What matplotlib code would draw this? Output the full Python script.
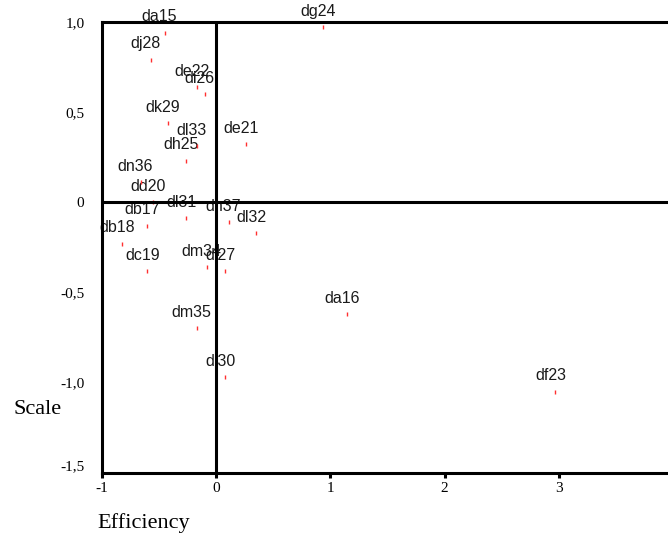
import matplotlib
matplotlib.use('Agg')
import matplotlib.pyplot as plt

# ---- data ----
names = ['da15', 'dj28', 'de22', 'di26', 'dk29', 'dl33', 'dh25', 'de21',
         'dn36', 'dd20', 'dl31', 'dn37', 'dl32', 'db17', 'db18', 'dc19',
         'dm34', 'di27', 'dm35', 'dl30', 'da16', 'df23', 'dg24']
efficiency = [-0.45, -0.57, -0.17, -0.10, -0.42, -0.17, -0.26, 0.26,
              -0.66, -0.55, -0.26, 0.11, 0.35, -0.60, -0.82, -0.60,
              -0.08, 0.08, -0.17, 0.08, 1.15, 2.97, 0.94]
scale = [0.94, 0.79, 0.64, 0.60, 0.44, 0.31, 0.23, 0.32,
         0.11, 0.00, -0.09, -0.11, -0.17, -0.13, -0.23, -0.38,
         -0.36, -0.38, -0.70, -0.97, -0.62, -1.05, 0.97]

x_ticks = [-1, 0, 1, 2, 3, 4]
x_tick_labels = ['-1', '0', '1', '2', '3', '4']
y_ticks = [1.0, 0.5, 0.0, -0.5, -1.0, -1.5]
y_tick_labels = ['1,0', '0,5', '0', '-0,5', '-1,0', '-1,5']

W, H = 668, 538
fig = plt.figure(figsize=(W / 100, H / 100), dpi=100)
left_px, right_px, top_px, bottom_px = 101.7, 673.2, 21.7, 472.7
ax = fig.add_axes([left_px / W, 1 - bottom_px / H,
                   (right_px - left_px) / W, (bottom_px - top_px) / H])
ax.set_xlim(-1, 4)
ax.set_ylim(-1.5, 1.0)

lw = 2.2
for side in ['left', 'top', 'bottom']:
    ax.spines[side].set_linewidth(lw)
    ax.spines[side].set_color('black')
    ax.spines[side].set_zorder(6)
ax.spines['right'].set_visible(False)

ax.axhline(0, color='black', lw=lw, zorder=5)
ax.axvline(0, color='black', lw=lw, zorder=5)

ax.plot(efficiency, scale, linestyle='none', marker='|', markersize=3.2,
        markeredgewidth=1, color='#ff3030', zorder=4)

for n, x, y in zip(names, efficiency, scale):
    ax.annotate(n, (x, y), xytext=(-3.6, 8), textcoords='offset points',
                ha='center', va='baseline', fontsize=11.5,
                family='Liberation Sans', color='#1a1a1a', zorder=3,
                annotation_clip=False)

serif = 'Liberation Serif'
ax.set_xticks(x_ticks)
ax.set_xticklabels(x_tick_labels, family=serif, fontsize=11)
ax.set_yticks(y_ticks)
ax.set_yticklabels(y_tick_labels, family=serif, fontsize=11)
ax.tick_params(axis='x', direction='out', length=3.6, width=2.2, pad=3,
               colors='black')
ax.tick_params(axis='y', length=0, pad=12.5)
ax.get_yticklabels()[-1].set_va('bottom')

fig.text(13.7 / W, 1 - 409 / H, 'Scale', family=serif, fontsize=16,
         ha='left', va='center')
fig.text(97 / W, 1 - 523 / H, 'Efficiency', family=serif, fontsize=16,
         ha='left', va='center')

fig.savefig('out.png', dpi=100)
